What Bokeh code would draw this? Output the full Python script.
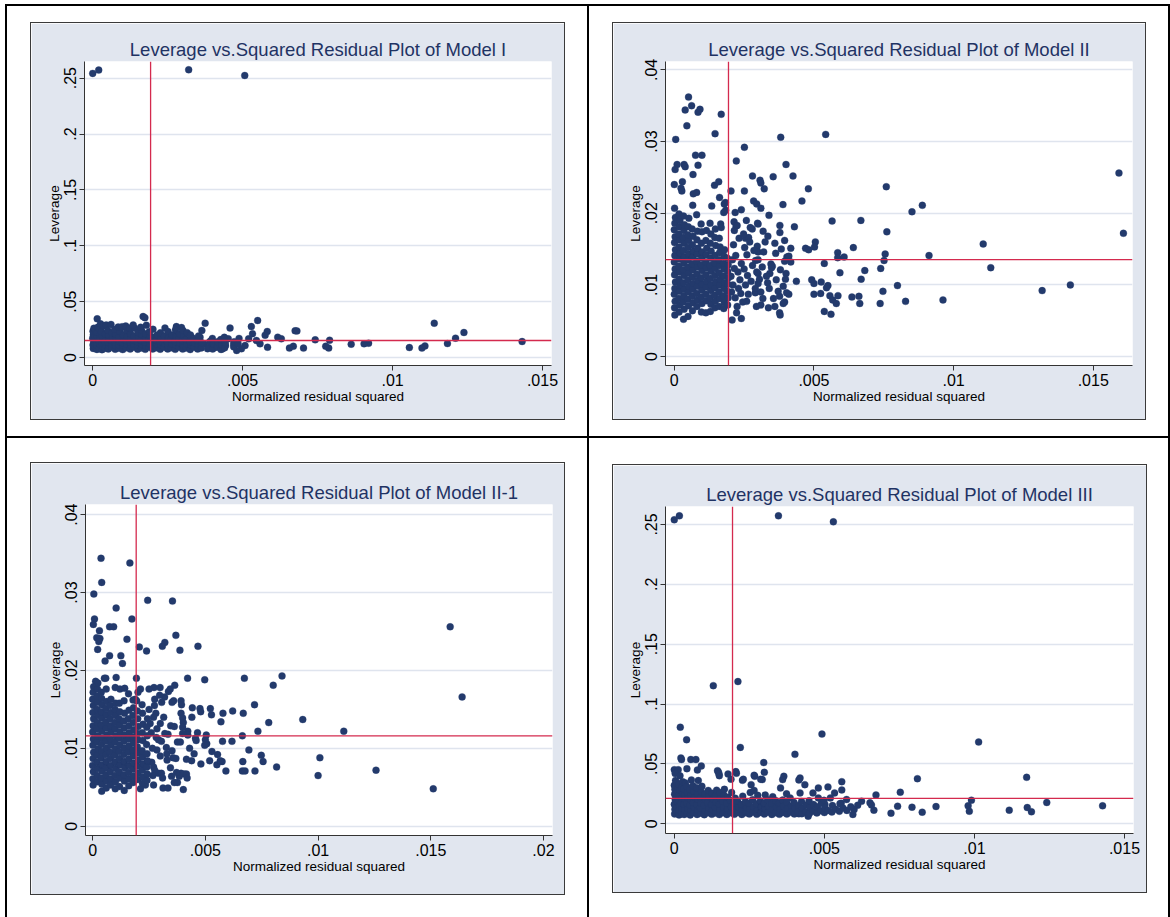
from bokeh.plotting import figure
from bokeh.models import Span, FixedTicker, Range1d, Spacer
from bokeh.layouts import row, column
from bokeh.embed import file_html
from bokeh.resources import INLINE

titles = ["Leverage vs.Squared Residual Plot of Model I",
          "Leverage vs.Squared Residual Plot of Model II",
          "Leverage vs.Squared Residual Plot of Model II-1",
          "Leverage vs.Squared Residual Plot of Model III"]
x_axis_title = "Normalized residual squared"
y_axis_title = "Leverage"

x_ticks_a = [0, 0.005, 0.01, 0.015]
x_tick_labels_a = ["0", ".005", ".01", ".015"]
x_ticks_b = [0, 0.005, 0.01, 0.015, 0.02]
x_tick_labels_b = ["0", ".005", ".01", ".015", ".02"]
y_ticks_a = [0, 0.05, 0.1, 0.15, 0.2, 0.25]
y_tick_labels_a = ["0", ".05", ".1", ".15", ".2", ".25"]
y_ticks_b = [0, 0.01, 0.02, 0.03, 0.04]
y_tick_labels_b = ["0", ".01", ".02", ".03", ".04"]

ref_resid = [0.00193, 0.00194, 0.00193, 0.00194]
ref_leverage = [0.0152, 0.01353, 0.0116, 0.0213]

model_1 = [
(0.00000,0.2542),(0.00020,0.2572),(0.00320,0.2575),(0.00507,0.2524),
(0.01432,0.0143),(0.01238,0.0224),(0.01210,0.0173),(0.01183,0.0125),(0.01139,0.0307),
(0.01108,0.0104),(0.01098,0.0084),(0.01056,0.0089),(0.00920,0.0128),(0.00905,0.0122),
(0.00862,0.0119),(0.00790,0.0155),(0.00787,0.0084),(0.00777,0.0101),(0.00742,0.0158),
(0.00703,0.0084),(0.00675,0.0239),(0.00681,0.0238),(0.00669,0.0101),(0.00656,0.0084),
(0.00629,0.0167),(0.00617,0.0182),(0.00582,0.0233),(0.00575,0.0200),(0.00583,0.0092),
(0.00550,0.0331),(0.00529,0.0277),(0.00558,0.0122),(0.00546,0.0152),(0.00533,0.0212),
(0.00520,0.0167),(0.00508,0.0107),(0.00496,0.0078),(0.00480,0.0063),(0.00470,0.0122),
(0.00458,0.0263),(0.00452,0.0167),(0.00443,0.0107),(0.00433,0.0078),(0.00420,0.0137),
(0.00408,0.0092),(0.00395,0.0152),(0.00383,0.0078),(0.00375,0.0307),(0.00370,0.0122),
(0.00364,0.0242),(0.00358,0.0182),
(0.00002,0.0081),(0.00001,0.0112),(0.00003,0.0141),(0.00000,0.0172),(0.00002,0.0203),(0.00001,0.0236),(0.00004,0.0262),
(0.00008,0.0097),(0.00007,0.0128),(0.00009,0.0158),(0.00006,0.0189),(0.00010,0.0221),(0.00008,0.0249),
(0.00014,0.0072),(0.00015,0.0104),(0.00013,0.0133),(0.00016,0.0165),(0.00014,0.0194),(0.00015,0.0226),(0.00017,0.0271),(0.00015,0.0346),
(0.00022,0.0086),(0.00024,0.0117),(0.00021,0.0148),(0.00023,0.0178),(0.00025,0.0207),(0.00022,0.0252),(0.00026,0.0301),
(0.00031,0.0070),(0.00033,0.0101),(0.00030,0.0131),(0.00034,0.0162),(0.00032,0.0192),(0.00029,0.0231),(0.00035,0.0285),
(0.00041,0.0082),(0.00043,0.0113),(0.00040,0.0142),(0.00044,0.0173),(0.00042,0.0212),(0.00045,0.0291),
(0.00052,0.0076),(0.00054,0.0106),(0.00051,0.0137),(0.00055,0.0166),(0.00053,0.0201),(0.00050,0.0243),
(0.00063,0.0091),(0.00065,0.0121),(0.00062,0.0152),(0.00066,0.0183),(0.00064,0.0222),(0.00061,0.0296),
(0.00075,0.0074),(0.00077,0.0104),(0.00074,0.0136),(0.00078,0.0171),(0.00076,0.0212),(0.00073,0.0251),
(0.00088,0.0082),(0.00086,0.0111),(0.00089,0.0142),(0.00087,0.0181),(0.00090,0.0232),(0.00085,0.0272),
(0.00100,0.0071),(0.00102,0.0101),(0.00099,0.0131),(0.00103,0.0163),(0.00101,0.0202),(0.00098,0.0276),
(0.00112,0.0087),(0.00114,0.0116),(0.00111,0.0151),(0.00115,0.0191),(0.00113,0.0242),(0.00110,0.0282),
(0.00125,0.0075),(0.00127,0.0106),(0.00124,0.0137),(0.00128,0.0172),(0.00126,0.0213),(0.00123,0.0265),
(0.00138,0.0092),(0.00136,0.0122),(0.00139,0.0153),(0.00137,0.0192),(0.00140,0.0261),(0.00135,0.0291),
(0.00150,0.0074),(0.00152,0.0107),(0.00149,0.0142),(0.00153,0.0182),(0.00151,0.0222),
(0.00162,0.0086),(0.00164,0.0117),(0.00161,0.0152),(0.00165,0.0201),(0.00163,0.0241),(0.00160,0.0271),
(0.00168,0.0367),(0.00174,0.0356),
(0.00175,0.0073),(0.00177,0.0104),(0.00174,0.0136),(0.00178,0.0171),(0.00176,0.0213),(0.00179,0.0289),
(0.00188,0.0091),(0.00190,0.0122),(0.00187,0.0161),(0.00191,0.0192),(0.00189,0.0231),
(0.00200,0.0076),(0.00202,0.0106),(0.00199,0.0141),(0.00203,0.0181),(0.00201,0.0252),
(0.00212,0.0087),(0.00214,0.0116),(0.00211,0.0152),(0.00215,0.0202),
(0.00225,0.0074),(0.00227,0.0111),(0.00224,0.0142),(0.00228,0.0172),(0.00226,0.0221),(0.00241,0.0263),
(0.00238,0.0092),(0.00240,0.0123),(0.00237,0.0161),(0.00239,0.0193),
(0.00250,0.0076),(0.00252,0.0106),(0.00249,0.0143),(0.00253,0.0182),(0.00251,0.0232),(0.00279,0.0277),
(0.00262,0.0087),(0.00264,0.0121),(0.00261,0.0162),(0.00265,0.0201),
(0.00275,0.0073),(0.00277,0.0112),(0.00274,0.0141),(0.00278,0.0191),(0.00276,0.0249),
(0.00288,0.0091),(0.00290,0.0131),(0.00287,0.0172),(0.00289,0.0212),(0.00296,0.0268),
(0.00300,0.0075),(0.00302,0.0106),(0.00299,0.0151),(0.00303,0.0192),(0.00301,0.0241),
(0.00312,0.0086),(0.00314,0.0121),(0.00311,0.0162),(0.00315,0.0222),
(0.00325,0.0071),(0.00327,0.0112),(0.00324,0.0142),(0.00328,0.0181),(0.00326,0.0202),
(0.00338,0.0092),(0.00340,0.0131),(0.00337,0.0171),
(0.00350,0.0076),(0.00352,0.0111),(0.00349,0.0152),(0.00353,0.0192),
(0.00362,0.0086),(0.00364,0.0131),
(0.00388,0.0091),(0.00390,0.0141),(0.00400,0.0076),(0.00402,0.0121),(0.00399,0.0171),
(0.00415,0.0092),(0.00417,0.0141),(0.00428,0.0072),(0.00430,0.0112),(0.00427,0.0161),
(0.00440,0.0087),(0.00442,0.0131),(0.00439,0.0181),(0.00470,0.0096),(0.00472,0.0141),
(0.00485,0.0121),(0.00488,0.0171),
]

model_2 = [
(0.00051,0.0362),(0.00062,0.0350),(0.00039,0.0344),(0.00092,0.0345),(0.00085,0.0341),(0.00168,0.0338),
(0.00045,0.0322),(0.00146,0.0311),(0.00005,0.0303),(0.00381,0.0306),(0.00542,0.0310),(0.00251,0.0292),
(0.00076,0.0281),(0.00099,0.0281),(0.00222,0.0273),(0.00400,0.0268),(0.00010,0.0268),(0.00035,0.0268),
(0.00039,0.0265),(0.00003,0.0261),(0.00085,0.0267),(0.00067,0.0254),(0.00280,0.0252),(0.00354,0.0251),
(0.00425,0.0252),(0.01592,0.0256),(0.00307,0.0246),(0.00310,0.0242),(0.00029,0.0244),(0.00144,0.0239),
(0.00159,0.0244),(0.00000,0.0240),(0.00024,0.0235),(0.00027,0.0231),(0.00322,0.0234),(0.00480,0.0234),
(0.00203,0.0231),(0.00251,0.0231),(0.00759,0.0237),(0.00068,0.0227),(0.00080,0.0229),(0.00162,0.0222),
(0.00457,0.0217),(0.00284,0.0217),(0.00295,0.0213),(0.00389,0.0212),(0.00183,0.0215),(0.00184,0.0204),
(0.00134,0.0210),(0.00310,0.0207),(0.00240,0.0205),(0.00888,0.0211),(0.00851,0.0202),(0.00339,0.0197),
(0.00565,0.0189),(0.00668,0.0190),(0.01608,0.0172),(0.00761,0.0174),(0.00430,0.0181),(0.00378,0.0183),
(0.00378,0.0173),(0.00214,0.0188),(0.00221,0.0182),(0.00166,0.0185),(0.00168,0.0180),(0.00298,0.0186),
(0.00279,0.0178),(0.00325,0.0160),(0.00255,0.0165),(0.00266,0.0166),(0.00395,0.0162),(0.00505,0.0160),
(0.00502,0.0153),(0.00470,0.0151),(0.00481,0.0149),(0.00417,0.0151),(0.00641,0.0152),(0.01106,0.0157),
(0.00585,0.0145),(0.00585,0.0138),(0.00608,0.0139),(0.00755,0.0143),(0.00751,0.0134),(0.00912,0.0141),
(0.01133,0.0124),(0.00739,0.0123),(0.00682,0.0120),(0.00593,0.0117),(0.00669,0.0108),(0.00537,0.0130),
(0.00363,0.0144),(0.00403,0.0139),(0.00417,0.0132),(0.00400,0.0116),(0.00398,0.0108),(0.00346,0.0129),
(0.00351,0.0126),(0.00342,0.0116),(0.00297,0.0154),(0.00300,0.0146),(0.00291,0.0134),(0.00300,0.0116),
(0.00300,0.0102),(0.00334,0.0103),(0.00437,0.0105),(0.00492,0.0107),(0.00500,0.0102),(0.00526,0.0104),
(0.00550,0.0099),(0.00545,0.0096),(0.00799,0.0099),(0.01317,0.0092),(0.01418,0.0100),(0.00747,0.0091),
(0.00636,0.0083),(0.00661,0.0084),(0.00586,0.0085),(0.00557,0.0085),(0.00567,0.0079),(0.00580,0.0074),
(0.00664,0.0074),(0.00737,0.0074),(0.00828,0.0077),(0.00962,0.0079),(0.00524,0.0088),(0.00500,0.0087),
(0.00537,0.0063),(0.00561,0.0059),(0.00410,0.0087),(0.00377,0.0084),(0.00395,0.0076),(0.00390,0.0074),
(0.00377,0.0061),(0.00379,0.0058),(0.00360,0.0070),(0.00337,0.0068),(0.00317,0.0081),(0.00310,0.0072),
(0.00290,0.0089),(0.00294,0.0070),(0.00259,0.0077),(0.00240,0.0053),(0.00207,0.0051),(0.00223,0.0061),
(0.00205,0.0090),(0.00210,0.0100),(0.00203,0.0112),(0.00215,0.0123),(0.00208,0.0135),(0.00212,0.0156),
(0.00220,0.0141),(0.00218,0.0082),(0.00225,0.0070),(0.00230,0.0095),(0.00228,0.0118),(0.00235,0.0107),
(0.00240,0.0130),(0.00238,0.0088),(0.00245,0.0076),(0.00250,0.0122),(0.00255,0.0100),(0.00252,0.0152),
(0.00260,0.0142),(0.00262,0.0113),(0.00265,0.0087),(0.00270,0.0160),(0.00275,0.0105),(0.00280,0.0127),
(0.00285,0.0148),(0.00290,0.0095),(0.00295,0.0118),(0.00300,0.0135),(0.00305,0.0108),(0.00310,0.0090),
(0.00315,0.0125),(0.00320,0.0146),(0.00330,0.0112),(0.00340,0.0095),(0.00348,0.0124),(0.00355,0.0081),
(0.00365,0.0107),(0.00372,0.0091),(0.00380,0.0121),(0.00390,0.0098),(0.00395,0.0133),(0.00402,0.0089),
(0.00410,0.0140),(0.00215,0.0176),(0.00225,0.0183),(0.00218,0.0201),(0.00232,0.0165),(0.00248,0.0171),
(0.00258,0.0190),(0.00272,0.0180),(0.00300,0.0185),(0.00318,0.0175),(0.00335,0.0168),(0.00360,0.0158),
(0.00383,0.0150),
(0.00002,0.0058),(0.00001,0.0068),(0.00003,0.0077),(0.00000,0.0087),(0.00002,0.0095),(0.00004,0.0104),
(0.00001,0.0114),(0.00003,0.0122),(0.00000,0.0132),(0.00002,0.0141),(0.00004,0.0149),(0.00001,0.0159),
(0.00003,0.0167),(0.00000,0.0177),(0.00002,0.0186),(0.00004,0.0194),(0.00001,0.0207),
(0.00017,0.0062),(0.00019,0.0072),(0.00016,0.0081),(0.00018,0.0091),(0.00020,0.0099),(0.00017,0.0108),
(0.00019,0.0118),(0.00016,0.0126),(0.00018,0.0136),(0.00020,0.0144),(0.00017,0.0153),(0.00019,0.0163),
(0.00016,0.0171),(0.00018,0.0181),(0.00020,0.0190),(0.00017,0.0199),
(0.00033,0.0052),(0.00035,0.0066),(0.00032,0.0076),(0.00034,0.0085),(0.00036,0.0094),(0.00033,0.0103),
(0.00035,0.0113),(0.00032,0.0121),(0.00034,0.0131),(0.00036,0.0139),(0.00033,0.0148),(0.00035,0.0158),
(0.00032,0.0166),(0.00034,0.0176),(0.00036,0.0184),(0.00033,0.0196),
(0.00049,0.0056),(0.00051,0.0071),(0.00048,0.0080),(0.00050,0.0090),(0.00052,0.0098),(0.00049,0.0107),
(0.00051,0.0117),(0.00048,0.0125),(0.00050,0.0135),(0.00052,0.0143),(0.00049,0.0152),(0.00051,0.0162),
(0.00048,0.0170),(0.00050,0.0181),(0.00052,0.0193),
(0.00065,0.0064),(0.00067,0.0075),(0.00064,0.0084),(0.00066,0.0094),(0.00068,0.0102),(0.00065,0.0111),
(0.00067,0.0121),(0.00064,0.0129),(0.00066,0.0139),(0.00068,0.0147),(0.00065,0.0156),(0.00067,0.0168),
(0.00064,0.0178),(0.00066,0.0211),
(0.00081,0.0070),(0.00083,0.0079),(0.00080,0.0088),(0.00082,0.0098),(0.00084,0.0106),(0.00081,0.0115),
(0.00083,0.0125),(0.00080,0.0133),(0.00082,0.0143),(0.00084,0.0151),(0.00081,0.0163),(0.00083,0.0175),
(0.00080,0.0198),
(0.00097,0.0062),(0.00099,0.0074),(0.00096,0.0083),(0.00098,0.0093),(0.00100,0.0101),(0.00097,0.0110),
(0.00099,0.0120),(0.00096,0.0128),(0.00098,0.0138),(0.00100,0.0146),(0.00097,0.0158),(0.00099,0.0174),
(0.00096,0.0185),
(0.00113,0.0061),(0.00115,0.0078),(0.00112,0.0087),(0.00114,0.0097),(0.00116,0.0105),(0.00113,0.0114),
(0.00115,0.0124),(0.00112,0.0132),(0.00114,0.0142),(0.00116,0.0151),(0.00113,0.0162),(0.00115,0.0176),
(0.00129,0.0063),(0.00131,0.0073),(0.00128,0.0082),(0.00130,0.0092),(0.00132,0.0100),(0.00129,0.0109),
(0.00131,0.0119),(0.00128,0.0127),(0.00130,0.0137),(0.00132,0.0147),(0.00129,0.0158),(0.00131,0.0171),
(0.00128,0.0186),
(0.00145,0.0068),(0.00147,0.0077),(0.00144,0.0086),(0.00146,0.0096),(0.00148,0.0104),(0.00145,0.0113),
(0.00147,0.0123),(0.00144,0.0131),(0.00146,0.0141),(0.00148,0.0155),(0.00145,0.0166),(0.00147,0.0178),
(0.00161,0.0070),(0.00163,0.0081),(0.00160,0.0090),(0.00162,0.0100),(0.00164,0.0108),(0.00161,0.0117),
(0.00163,0.0127),(0.00160,0.0135),(0.00162,0.0145),(0.00164,0.0153),(0.00161,0.0165),
(0.00177,0.0067),(0.00179,0.0076),(0.00176,0.0085),(0.00178,0.0095),(0.00180,0.0103),(0.00177,0.0112),
(0.00179,0.0122),(0.00176,0.0130),(0.00178,0.0140),(0.00180,0.0149),(0.00177,0.0201),(0.00179,0.0213),
(0.00191,0.0072),(0.00193,0.0082),(0.00190,0.0091),(0.00192,0.0101),(0.00194,0.0110),(0.00191,0.0119),
(0.00193,0.0128),(0.00190,0.0137),
]

model_2_1 = [
(0.00037,0.0344),(0.00165,0.0338),(0.00040,0.0313),(0.00005,0.0298),(0.00244,0.0290),(0.00354,0.0289),
(0.00104,0.0280),(0.00008,0.0266),(0.00003,0.0259),(0.00174,0.0266),(0.00030,0.0251),(0.00075,0.0256),
(0.00093,0.0256),(0.01586,0.0256),(0.00018,0.0242),(0.00032,0.0241),(0.00027,0.0237),(0.00022,0.0227),
(0.00152,0.0240),(0.00369,0.0245),(0.00320,0.0236),(0.00309,0.0231),(0.00467,0.0231),(0.00207,0.0230),
(0.00239,0.0225),(0.00387,0.0226),(0.00075,0.0219),(0.00125,0.0219),(0.00132,0.0209),(0.00055,0.0212),
(0.01639,0.0166),(0.00840,0.0193),(0.00801,0.0181),(0.00673,0.0190),(0.00497,0.0188),(0.00421,0.0190),
(0.00194,0.0190),(0.00104,0.0191),(0.00052,0.0190),(0.00013,0.0186),(0.00718,0.0156),(0.00781,0.0133),
(0.00932,0.0137),(0.01114,0.0122),(0.00733,0.0122),(0.00664,0.0116),(0.00693,0.0098),(0.00748,0.0091),
(0.00756,0.0083),(0.00816,0.0076),(0.01008,0.0088),(0.01000,0.0065),(0.01257,0.0072),(0.01511,0.0048),
(0.00666,0.0083),(0.00664,0.0071),(0.00676,0.0071),(0.00720,0.0071),(0.00591,0.0071),(0.00574,0.0083),
(0.00551,0.0079),(0.00554,0.0092),(0.00566,0.0084),(0.00569,0.0134),(0.00578,0.0145),(0.00621,0.0148),
(0.00668,0.0145),(0.00618,0.0109),(0.00576,0.0109),(0.00529,0.0096),(0.00519,0.0084),(0.00504,0.0117),
(0.00506,0.0106),(0.00500,0.0111),(0.00497,0.0104),(0.00522,0.0151),(0.00527,0.0143),(0.00476,0.0151),
(0.00479,0.0147),(0.00442,0.0152),(0.00456,0.0113),(0.00459,0.0110),(0.00439,0.0084),(0.00416,0.0086),
(0.00422,0.0122),(0.00422,0.0117),(0.00406,0.0067),(0.00402,0.0047),(0.00392,0.0068),(0.00384,0.0064),
(0.00416,0.0067),(0.00419,0.0062),(0.00392,0.0145),(0.00399,0.0139),(0.00402,0.0133),(0.00392,0.0161),
(0.00394,0.0156),(0.00399,0.0127),(0.00399,0.0119),(0.00376,0.0108),(0.00389,0.0108),(0.00369,0.0087),
(0.00372,0.0069),(0.00376,0.0056),(0.00362,0.0056),(0.00312,0.0049),(0.00334,0.0049),(0.00292,0.0068),
(0.00305,0.0068),(0.00327,0.0101),(0.00329,0.0093),(0.00352,0.0097),(0.00356,0.0088),(0.00334,0.0118),
(0.00320,0.0119),(0.00346,0.0129),(0.00362,0.0128),(0.00359,0.0161),(0.00352,0.0159),(0.00364,0.0181),
(0.00336,0.0173),(0.00344,0.0176),(0.00319,0.0166),(0.00299,0.0178),(0.00306,0.0159),(0.00297,0.0168),
(0.00275,0.0163),(0.00274,0.0155),(0.00280,0.0145),(0.00272,0.0178),(0.00250,0.0176),(0.00212,0.0176),
(0.00219,0.0156),(0.00195,0.0161),(0.00189,0.0163),(0.00282,0.0114),(0.00292,0.0111),(0.00305,0.0109),
(0.00262,0.0082),(0.00270,0.0076),(0.00275,0.0072),(0.00267,0.0065),(0.00270,0.0053),(0.00234,0.0053),
(0.00212,0.0048),
(0.00285,0.0125),(0.00300,0.0132),(0.00315,0.0140),(0.00330,0.0085),(0.00345,0.0075),(0.00300,0.0090),
(0.00285,0.0098),(0.00310,0.0062),(0.00350,0.0064),(0.00260,0.0120),(0.00265,0.0100),(0.00255,0.0132),
(0.00250,0.0150),(0.00270,0.0140),(0.00430,0.0100),(0.00450,0.0093),(0.00465,0.0120),(0.00480,0.0080),
(0.00440,0.0140),
(0.00002,0.0053),(0.00001,0.0061),(0.00003,0.0070),(0.00000,0.0078),(0.00002,0.0087),(0.00004,0.0095),
(0.00001,0.0104),(0.00003,0.0112),(0.00000,0.0121),(0.00002,0.0129),(0.00004,0.0138),(0.00001,0.0146),
(0.00003,0.0155),(0.00000,0.0163),(0.00002,0.0172),(0.00004,0.0179),
(0.00021,0.0057),(0.00020,0.0065),(0.00022,0.0074),(0.00019,0.0082),(0.00021,0.0091),(0.00023,0.0099),
(0.00020,0.0108),(0.00022,0.0116),(0.00019,0.0125),(0.00021,0.0133),(0.00023,0.0142),(0.00020,0.0150),
(0.00022,0.0159),(0.00019,0.0167),(0.00021,0.0176),(0.00023,0.0184),
(0.00040,0.0045),(0.00041,0.0054),(0.00039,0.0062),(0.00042,0.0071),(0.00040,0.0079),(0.00038,0.0088),
(0.00041,0.0096),(0.00039,0.0105),(0.00042,0.0113),(0.00040,0.0122),(0.00038,0.0130),(0.00041,0.0139),
(0.00039,0.0147),(0.00042,0.0156),(0.00040,0.0164),(0.00038,0.0172),
(0.00060,0.0049),(0.00061,0.0058),(0.00059,0.0066),(0.00062,0.0075),(0.00060,0.0083),(0.00058,0.0092),
(0.00061,0.0100),(0.00059,0.0109),(0.00062,0.0117),(0.00060,0.0126),(0.00058,0.0134),(0.00061,0.0143),
(0.00059,0.0151),(0.00062,0.0160),(0.00060,0.0176),(0.00058,0.0190),
(0.00079,0.0053),(0.00080,0.0061),(0.00078,0.0070),(0.00081,0.0078),(0.00079,0.0087),(0.00077,0.0095),
(0.00080,0.0104),(0.00078,0.0112),(0.00081,0.0121),(0.00079,0.0129),(0.00077,0.0138),(0.00080,0.0146),
(0.00078,0.0155),(0.00081,0.0163),
(0.00100,0.0048),(0.00101,0.0057),(0.00099,0.0065),(0.00102,0.0074),(0.00100,0.0082),(0.00098,0.0091),
(0.00101,0.0099),(0.00099,0.0108),(0.00102,0.0116),(0.00100,0.0125),(0.00098,0.0133),(0.00101,0.0142),
(0.00099,0.0150),(0.00102,0.0158),(0.00100,0.0178),
(0.00119,0.0051),(0.00120,0.0062),(0.00118,0.0070),(0.00121,0.0079),(0.00119,0.0087),(0.00117,0.0096),
(0.00120,0.0104),(0.00118,0.0113),(0.00121,0.0121),(0.00119,0.0130),(0.00117,0.0138),(0.00120,0.0147),
(0.00118,0.0158),(0.00121,0.0176),
(0.00140,0.0046),(0.00141,0.0058),(0.00139,0.0066),(0.00142,0.0075),(0.00140,0.0083),(0.00138,0.0092),
(0.00141,0.0100),(0.00139,0.0109),(0.00142,0.0117),(0.00140,0.0126),(0.00138,0.0135),(0.00141,0.0145),
(0.00139,0.0161),(0.00142,0.0177),
(0.00160,0.0052),(0.00161,0.0061),(0.00159,0.0069),(0.00162,0.0078),(0.00160,0.0086),(0.00158,0.0095),
(0.00161,0.0103),(0.00159,0.0112),(0.00162,0.0120),(0.00160,0.0129),(0.00158,0.0138),(0.00161,0.0149),
(0.00159,0.0170),
(0.00180,0.0056),(0.00181,0.0064),(0.00179,0.0073),(0.00182,0.0081),(0.00180,0.0090),(0.00178,0.0098),
(0.00181,0.0107),(0.00179,0.0115),(0.00182,0.0124),(0.00180,0.0133),(0.00178,0.0142),(0.00181,0.0152),
(0.00179,0.0162),
(0.00200,0.0060),(0.00201,0.0068),(0.00199,0.0077),(0.00202,0.0085),(0.00200,0.0094),(0.00198,0.0102),
(0.00201,0.0111),(0.00199,0.0119),(0.00202,0.0128),(0.00200,0.0138),(0.00198,0.0148),(0.00201,0.0172),
(0.00221,0.0055),(0.00222,0.0063),(0.00220,0.0072),(0.00223,0.0080),(0.00221,0.0089),(0.00219,0.0097),
(0.00222,0.0110),(0.00220,0.0120),(0.00223,0.0131),(0.00221,0.0145),
(0.00241,0.0059),(0.00242,0.0067),(0.00240,0.0076),(0.00243,0.0084),(0.00241,0.0093),(0.00239,0.0105),
(0.00242,0.0116),(0.00240,0.0127),(0.00243,0.0138),
]

model_3 = [
(0.00000,0.2539),(0.00017,0.2572),(0.00347,0.2572),(0.00530,0.2522),
(0.00130,0.1154),(0.00212,0.1188),(0.00020,0.0807),(0.00041,0.0702),(0.00220,0.0638),(0.00492,0.0749),
(0.01014,0.0683),(0.00402,0.0580),
(0.00810,0.0377),(0.01174,0.0388),(0.01241,0.0178),(0.01427,0.0150),(0.00990,0.0197),(0.00979,0.0150),
(0.00983,0.0105),(0.01116,0.0114),(0.01176,0.0136),(0.01190,0.0100),
(0.00872,0.0144),(0.00826,0.0097),(0.00792,0.0139),(0.00753,0.0264),(0.00744,0.0147),(0.00722,0.0089),
(0.00672,0.0241),(0.00665,0.0114),(0.00657,0.0158),(0.00652,0.0175),(0.00624,0.0189),(0.00611,0.0155),
(0.00599,0.0119),(0.00595,0.0078),(0.00574,0.0203),(0.00558,0.0352),(0.00558,0.0283),(0.00556,0.0172),
(0.00534,0.0258),(0.00512,0.0308),(0.00520,0.0216),(0.00502,0.0161),(0.00480,0.0300),(0.00480,0.0216),
(0.00462,0.0258),(0.00446,0.0064),(0.00435,0.0327),(0.00419,0.0383),(0.00415,0.0366),(0.00419,0.0258),
(0.00415,0.0083),(0.00386,0.0216),(0.00374,0.0250),(0.00365,0.0397),(0.00361,0.0369),(0.00354,0.0300),
(0.00298,0.0511),(0.00300,0.0430),(0.00293,0.0369),(0.00268,0.0397),(0.00256,0.0327),(0.00227,0.0363),
(0.00207,0.0422),(0.00189,0.0372),(0.00179,0.0416),(0.00150,0.0402),(0.00147,0.0433),
(0.00022,0.0550),(0.00024,0.0537),(0.00055,0.0537),(0.00072,0.0537),(0.00000,0.0452),(0.00013,0.0452),
(0.00042,0.0460),(0.00077,0.0449),(0.00090,0.0482),(0.00144,0.0444),(0.00149,0.0416),(0.00205,0.0436),
(0.00230,0.0372),(0.00266,0.0405),(0.00288,0.0372),
(0.00001,0.0082),(0.00002,0.0121),(0.00000,0.0163),(0.00003,0.0204),(0.00001,0.0246),(0.00002,0.0288),
(0.00000,0.0322),(0.00004,0.0361),(0.00003,0.0421),
(0.00009,0.0098),(0.00008,0.0141),(0.00010,0.0183),(0.00007,0.0226),(0.00009,0.0268),(0.00011,0.0305),
(0.00008,0.0342),
(0.00016,0.0074),(0.00015,0.0115),(0.00017,0.0157),(0.00014,0.0199),(0.00016,0.0241),(0.00018,0.0282),
(0.00015,0.0331),(0.00019,0.0402),
(0.00024,0.0091),(0.00026,0.0132),(0.00023,0.0174),(0.00025,0.0216),(0.00027,0.0259),(0.00024,0.0301),
(0.00028,0.0352),
(0.00033,0.0077),(0.00035,0.0118),(0.00032,0.0161),(0.00036,0.0203),(0.00034,0.0247),(0.00031,0.0292),
(0.00037,0.0341),
(0.00043,0.0088),(0.00045,0.0129),(0.00042,0.0172),(0.00046,0.0214),(0.00044,0.0261),(0.00041,0.0312),
(0.00053,0.0074),(0.00055,0.0114),(0.00052,0.0158),(0.00056,0.0199),(0.00054,0.0243),(0.00051,0.0287),
(0.00057,0.0366),
(0.00064,0.0093),(0.00066,0.0136),(0.00063,0.0178),(0.00067,0.0222),(0.00065,0.0271),(0.00062,0.0318),
(0.00076,0.0078),(0.00078,0.0117),(0.00075,0.0161),(0.00079,0.0204),(0.00077,0.0252),(0.00074,0.0301),
(0.00080,0.0361),
(0.00088,0.0089),(0.00086,0.0131),(0.00089,0.0172),(0.00087,0.0219),(0.00090,0.0268),(0.00092,0.0313),
(0.00100,0.0076),(0.00102,0.0114),(0.00099,0.0157),(0.00103,0.0201),(0.00101,0.0247),
(0.00112,0.0092),(0.00114,0.0134),(0.00111,0.0176),(0.00115,0.0226),(0.00113,0.0279),
(0.00125,0.0079),(0.00127,0.0118),(0.00124,0.0162),(0.00128,0.0207),(0.00126,0.0256),
(0.00138,0.0091),(0.00136,0.0137),(0.00139,0.0181),(0.00137,0.0233),(0.00141,0.0281),
(0.00150,0.0077),(0.00152,0.0121),(0.00149,0.0166),(0.00153,0.0214),(0.00151,0.0262),
(0.00162,0.0093),(0.00164,0.0139),(0.00161,0.0187),(0.00165,0.0241),(0.00167,0.0288),
(0.00175,0.0078),(0.00177,0.0124),(0.00174,0.0171),(0.00178,0.0222),
(0.00188,0.0092),(0.00190,0.0141),(0.00187,0.0194),(0.00191,0.0262),
(0.00200,0.0079),(0.00202,0.0122),(0.00199,0.0171),(0.00203,0.0214),
(0.00212,0.0094),(0.00214,0.0141),(0.00211,0.0189),
(0.00225,0.0078),(0.00227,0.0119),(0.00224,0.0162),(0.00228,0.0231),
(0.00238,0.0092),(0.00240,0.0137),(0.00237,0.0184),
(0.00250,0.0081),(0.00252,0.0124),(0.00249,0.0171),(0.00253,0.0262),
(0.00262,0.0096),(0.00264,0.0142),(0.00261,0.0201),(0.00266,0.0279),
(0.00275,0.0079),(0.00277,0.0121),(0.00274,0.0168),(0.00278,0.0238),
(0.00288,0.0094),(0.00290,0.0139),(0.00287,0.0191),
(0.00300,0.0081),(0.00302,0.0126),(0.00299,0.0172),(0.00303,0.0241),
(0.00312,0.0097),(0.00314,0.0144),(0.00311,0.0201),
(0.00325,0.0078),(0.00327,0.0121),(0.00324,0.0169),(0.00328,0.0226),
(0.00338,0.0092),(0.00340,0.0141),(0.00337,0.0194),
(0.00350,0.0079),(0.00352,0.0124),(0.00349,0.0171),
(0.00362,0.0095),(0.00364,0.0146),(0.00361,0.0198),
(0.00375,0.0081),(0.00377,0.0127),(0.00374,0.0181),
(0.00388,0.0096),(0.00390,0.0149),(0.00400,0.0082),(0.00402,0.0131),(0.00399,0.0178),
(0.00412,0.0098),(0.00414,0.0152),(0.00425,0.0084),(0.00427,0.0133),(0.00424,0.0187),
(0.00438,0.0101),(0.00440,0.0156),(0.00450,0.0087),(0.00452,0.0138),(0.00449,0.0192),
(0.00462,0.0104),(0.00464,0.0161),(0.00475,0.0091),(0.00477,0.0143),
(0.00488,0.0108),(0.00490,0.0171),(0.00500,0.0094),(0.00502,0.0132),(0.00499,0.0196),
(0.00512,0.0112),(0.00525,0.0098),(0.00527,0.0152),(0.00538,0.0121),(0.00550,0.0104),(0.00552,0.0168),
(0.00562,0.0131),(0.00575,0.0112),(0.00588,0.0142),
]

REGION = "#E1E6EF"
GRID = "#DFE4EE"
NAVY = "#233A6C"
RED = "#D42A4E"
TITLE_COLOR = "#1F3364"
AXIS = "#333333"
FONT = "Liberation Sans"


def make_panel(title, pts, x_rng, y_rng, xt, xl, yt, yl, vline, hline,
               w, h, margin, borders):
    xs = [p[0] for p in pts]
    ys = [p[1] for p in pts]
    bl, br, bt, bb = borders
    p = figure(width=w, height=h, x_range=Range1d(*x_rng), y_range=Range1d(*y_rng),
               output_backend="svg", toolbar_location=None,
               min_border_left=bl, min_border_right=br,
               min_border_top=bt, min_border_bottom=bb,
               margin=margin, styles={"outline": "1px solid #3a3a3a"})
    p.border_fill_color = REGION
    p.background_fill_color = "white"
    p.outline_line_color = None
    p.title.text = title
    p.title.align = "center"
    p.title.text_font = FONT
    p.title.text_font_size = "18.5px"
    p.title.text_font_style = "normal"
    p.title.text_color = TITLE_COLOR
    p.title.standoff = 3
    p.xaxis.ticker = FixedTicker(ticks=xt)
    p.xaxis.major_label_overrides = dict(zip(xt, xl))
    p.yaxis.ticker = FixedTicker(ticks=yt)
    p.yaxis.major_label_overrides = dict(zip(yt, yl))
    p.yaxis.major_label_orientation = "vertical"
    p.xaxis.axis_label = x_axis_title
    p.yaxis.axis_label = y_axis_title
    for ax in p.xaxis + p.yaxis:
        ax.axis_line_color = AXIS
        ax.major_tick_line_color = AXIS
        ax.major_tick_out = 5
        ax.major_tick_in = 0
        ax.minor_tick_out = 0
        ax.minor_tick_in = 0
        ax.major_label_standoff = 3
        ax.axis_label_standoff = 0
        ax.major_label_text_font = FONT
        ax.major_label_text_font_size = "16px"
        ax.major_label_text_color = "black"
        ax.axis_label_text_font = FONT
        ax.axis_label_text_font_size = "13.5px"
        ax.axis_label_text_font_style = "normal"
        ax.axis_label_text_color = "black"
    p.xgrid.visible = False
    p.ygrid.grid_line_color = GRID
    p.ygrid.grid_line_width = 1.6
    p.scatter(xs, ys, size=7, fill_color=NAVY, line_color=NAVY, line_width=0.3)
    p.add_layout(Span(location=vline, dimension="height", line_color=RED, line_width=1.3))
    p.add_layout(Span(location=hline, dimension="width", line_color=RED, line_width=1.3))
    return p


p1 = make_panel(titles[0], model_1, (-0.000274, 0.0153), (-0.00716, 0.2649),
                x_ticks_a, x_tick_labels_a, y_ticks_a, y_tick_labels_a,
                ref_resid[0], ref_leverage[0], 533, 396, (17, 23, 17, 24), (53, 13, 38, 54))
p2 = make_panel(titles[1], model_2, (-0.000315, 0.016405), (-0.00125, 0.04117),
                x_ticks_a, x_tick_labels_a, y_ticks_b, y_tick_labels_b,
                ref_resid[1], ref_leverage[1], 532, 396, (17, 23, 17, 24), (52, 13, 38, 53))
p3 = make_panel(titles[2], model_2_1, (-0.000319, 0.0204), (-0.00119, 0.0413),
                x_ticks_b, x_tick_labels_b, y_ticks_b, y_tick_labels_b,
                ref_resid[2], ref_leverage[2], 533, 431, (25, 23, 23, 24), (54, 12, 41, 59))
p4 = make_panel(titles[3], model_3, (-0.000293, 0.0153), (-0.0081, 0.2650),
                x_ticks_a, x_tick_labels_a, y_ticks_a, y_tick_labels_a,
                ref_resid[3], ref_leverage[3], 533, 427, (27, 22, 25, 24), (52, 13, 41, 58))


def bar(w, h, color=None):
    st = {"background-color": color} if color else {}
    return Spacer(width=w, height=h, margin=0, styles=st)


root = column(
    bar(1170, 4),
    row(bar(5, 2), bar(1165, 2, "black")),
    row(bar(5, 430), bar(2, 430, "black"), p1, bar(2, 430, "black"), p2, bar(2, 430, "black")),
    row(bar(5, 2), bar(1165, 2, "black")),
    row(bar(5, 479), bar(2, 479, "black"), p3, bar(2, 479, "black"), p4, bar(2, 479, "black")),
)

open("out.html", "w").write(file_html(root, INLINE))
